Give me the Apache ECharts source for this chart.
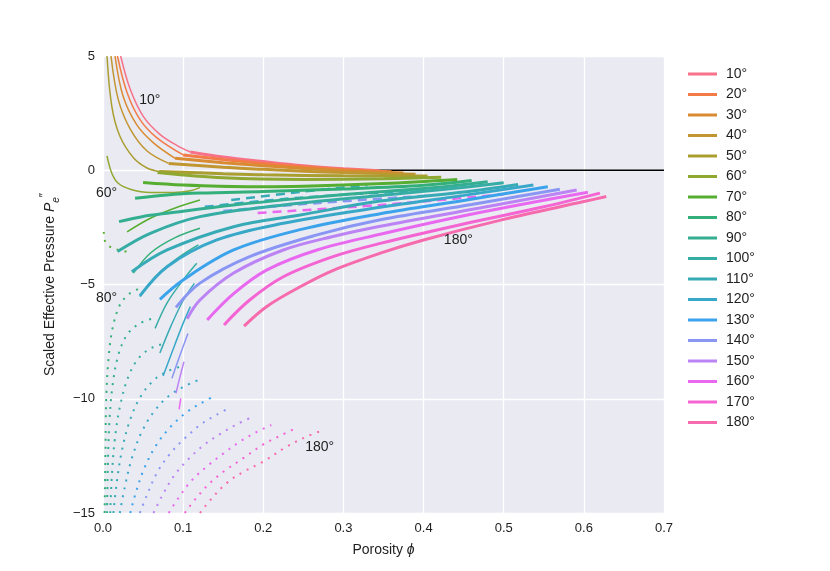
<!DOCTYPE html>
<html>
<head>
<meta charset="utf-8">
<script src="https://cdn.jsdelivr.net/npm/echarts@6/dist/echarts.min.js"></script>
<style>
  html, body { margin: 0; padding: 0; background: #fff; }
  #chart { width: 830px; height: 571px; }
</style>
</head>
<body>
<div id="chart"></div>
<script>
// 接触角 (legend entries)
const angles = [10, 20, 30, 40, 50, 60, 70, 80, 90, 100, 110, 120, 130, 140, 150, 160, 170, 180];
const palette = ['#f77189', '#f27b48', '#d98b32', '#c19631', '#aa9e31', '#8ea831', '#55ae31', '#33b07a',
  '#34ae91', '#36ada4', '#37abb5', '#38a8c8', '#3ba3ec', '#8a96f4', '#bb83f4', '#e868f0', '#f564d3', '#f66bad'];

// thick solid branch, one per angle, [porosity, pressure]
const stableBranch = [
  [[0.109, 0.8], [0.15, 0.58], [0.2, 0.38], [0.25, 0.2], [0.3, 0.07], [0.345, -0.02]],
  [[0.1, 0.67], [0.15, 0.47], [0.2, 0.3], [0.25, 0.15], [0.3, 0.03], [0.36, -0.07]],
  [[0.09, 0.52], [0.15, 0.33], [0.2, 0.2], [0.25, 0.08], [0.3, -0.02], [0.375, -0.12]],
  [[0.082, 0.3], [0.15, 0.13], [0.2, 0.04], [0.25, -0.04], [0.3, -0.1], [0.39, -0.18]],
  [[0.07, -0.05], [0.15, -0.15], [0.2, -0.2], [0.3, -0.24], [0.405, -0.25]],
  [[0.068, -0.1], [0.15, -0.33], [0.25, -0.4], [0.35, -0.37], [0.422, -0.31]],
  [[0.05, -0.54], [0.1, -0.65], [0.18, -0.72], [0.25, -0.7], [0.35, -0.58], [0.442, -0.4]],
  [[0.04, -1.23], [0.08, -1.08], [0.121, -1.0], [0.2, -0.93], [0.3, -0.82], [0.4, -0.66], [0.46, -0.45]],
  [[0.02, -2.25], [0.05, -2.02], [0.08, -1.88], [0.163, -1.52], [0.25, -1.22], [0.346, -0.94], [0.42, -0.74], [0.48, -0.5]],
  [[0.018, -3.56], [0.059, -2.76], [0.121, -2.03], [0.225, -1.52], [0.346, -1.1], [0.43, -0.82], [0.5, -0.55]],
  [[0.036, -4.44], [0.08, -3.49], [0.163, -2.47], [0.246, -1.96], [0.346, -1.35], [0.45, -0.95], [0.518, -0.62]],
  [[0.046, -5.5], [0.08, -4.22], [0.142, -3.05], [0.225, -2.32], [0.346, -1.62], [0.45, -1.1], [0.537, -0.65]],
  [[0.071, -5.65], [0.1, -4.8], [0.163, -3.49], [0.246, -2.6], [0.346, -1.9], [0.45, -1.32], [0.555, -0.72]],
  [[0.091, -6.0], [0.121, -4.94], [0.183, -3.78], [0.267, -2.83], [0.346, -2.17], [0.46, -1.5], [0.57, -0.83]],
  [[0.105, -6.5], [0.121, -5.68], [0.163, -4.5], [0.225, -3.49], [0.287, -2.9], [0.346, -2.45], [0.47, -1.65], [0.591, -0.86]],
  [[0.13, -6.55], [0.163, -5.4], [0.204, -4.37], [0.267, -3.49], [0.346, -2.8], [0.47, -1.85], [0.605, -0.96]],
  [[0.151, -6.77], [0.183, -5.68], [0.225, -4.66], [0.287, -3.78], [0.346, -3.2], [0.45, -2.35], [0.55, -1.6], [0.62, -1.0]],
  [[0.176, -6.82], [0.204, -5.97], [0.246, -5.1], [0.288, -4.37], [0.346, -3.63], [0.4, -3.05], [0.5, -2.15], [0.6, -1.37], [0.628, -1.15]]
];

// thin solid branch
const thinBranch = {
  10: [[0.022, 5], [0.034, 3.54], [0.05, 2.37], [0.071, 1.57], [0.092, 1.09], [0.109, 0.8]],
  20: [[0.018, 5], [0.03, 3.4], [0.046, 2.23], [0.067, 1.43], [0.1, 0.67]],
  30: [[0.015, 5], [0.025, 3.25], [0.042, 2.0], [0.063, 1.2], [0.09, 0.52]],
  40: [[0.01, 5], [0.019, 3.1], [0.034, 1.8], [0.055, 0.84], [0.082, 0.3]],
  50: [[0.005, 5], [0.011, 2.8], [0.021, 1.5], [0.038, 0.55], [0.055, 0.1], [0.07, -0.05]],
  60: [[0.005, 0.63], [0.011, -0.13], [0.019, -0.57], [0.034, -0.83], [0.059, -0.97], [0.088, -0.97], [0.109, -0.9], [0.121, -0.76]],
  70: [[0.03, -2.7], [0.059, -2.1], [0.09, -1.65], [0.121, -1.3]],
  80: [[0.038, -4.5], [0.06, -3.6], [0.09, -2.95], [0.121, -2.54]],
  90: [[0.046, -5.53], [0.07, -4.5], [0.095, -3.8], [0.119, -3.27]],
  100: [[0.065, -6.92], [0.08, -5.8], [0.1, -4.8], [0.117, -4.07]],
  110: [[0.071, -8.0], [0.085, -6.8], [0.1, -5.7], [0.114, -4.95]],
  120: [[0.075, -9.0], [0.09, -7.6], [0.1, -6.7], [0.109, -5.97]],
  140: [[0.086, -9.1], [0.096, -8.1], [0.106, -7.14]],
  150: [[0.091, -9.76], [0.096, -9.05], [0.101, -8.38]],
  160: [[0.095, -10.46], [0.097, -9.98]]
};

// dashed branch
const dashedBranch = {
  110: [[0.16, -1.3], [0.246, -0.95], [0.33, -0.65]],
  120: [[0.127, -1.6], [0.246, -1.2], [0.408, -0.86]],
  140: [[0.15, -1.78], [0.27, -1.43], [0.41, -1.1]],
  160: [[0.193, -1.87], [0.346, -1.52], [0.5, -1.05]]
};

// dotted branch
const dottedBranch = {
  70: [[0.001, -2.7], [0.002, -3.05], [0.009, -3.35], [0.021, -3.5], [0.03, -3.56]],
  80: [[0.002, -15], [0.003, -12.5], [0.004, -10.0], [0.007, -8.2], [0.012, -6.9], [0.021, -5.9], [0.033, -5.4], [0.046, -5.17]],
  90: [[0.005, -15], [0.006, -13.0], [0.008, -11.0], [0.012, -9.4], [0.019, -8.1], [0.03, -7.2], [0.046, -6.7], [0.063, -6.48]],
  100: [[0.009, -15], [0.011, -13.4], [0.015, -11.7], [0.022, -10.2], [0.032, -9.0], [0.045, -8.2], [0.062, -7.75], [0.08, -7.57]],
  110: [[0.013, -15], [0.017, -13.7], [0.024, -12.2], [0.034, -10.9], [0.047, -9.9], [0.063, -9.2], [0.08, -8.8], [0.096, -8.6]],
  120: [[0.021, -15], [0.027, -13.9], [0.036, -12.6], [0.049, -11.4], [0.065, -10.5], [0.083, -9.85], [0.102, -9.45], [0.119, -9.18]],
  130: [[0.034, -15], [0.041, -14.1], [0.052, -13.0], [0.067, -12.0], [0.085, -11.2], [0.104, -10.6], [0.122, -10.2], [0.138, -9.9]],
  140: [[0.046, -15], [0.055, -14.2], [0.068, -13.2], [0.085, -12.35], [0.103, -11.7], [0.123, -11.1], [0.142, -10.7], [0.158, -10.4]],
  150: [[0.063, -15], [0.073, -14.3], [0.088, -13.4], [0.105, -12.7], [0.125, -12.05], [0.148, -11.5], [0.168, -11.1], [0.186, -10.8]],
  160: [[0.082, -15], [0.094, -14.35], [0.11, -13.6], [0.13, -12.95], [0.15, -12.4], [0.172, -11.85], [0.192, -11.45], [0.21, -11.15]],
  170: [[0.102, -15], [0.115, -14.4], [0.133, -13.7], [0.152, -13.15], [0.175, -12.6], [0.2, -12.0], [0.222, -11.6], [0.24, -11.3]],
  180: [[0.121, -15], [0.134, -14.43], [0.154, -13.7], [0.175, -13.2], [0.2, -12.75], [0.229, -12.1], [0.254, -11.66], [0.275, -11.37]]
};

const zeroLine = [[0.32, 0], [0.7, 0]];

// 图中文字标注: [text, porosity, pressure]
const annotations = [
  ['10°', 0.059, 3.03],
  ['60°', 0.005, -1.04],
  ['80°', 0.005, -5.63],
  ['180°', 0.444, -3.1],
  ['180°', 0.271, -12.16]
];

const xTicks = { min: 0, max: 0.7, step: 0.1 };
const yTicks = { min: -15, max: 5, step: 5 };

const font = '"Liberation Sans", Arial, sans-serif';
const ink = '#1e1e1e';
const series = [];

series.push({
  type: 'line', name: 'zero', data: zeroLine, symbol: 'none', silent: true,
  lineStyle: { color: '#000', width: 1.5 }, z: 1
});

angles.forEach((a, i) => {
  const name = a + '°';
  const color = palette[i];
  const add = (data, width, type, z) => series.push({
    type: 'line', name, data, color, smooth: 0.35, symbol: 'none', silent: true, z,
    lineStyle: { color, width, type }
  });
  if (thinBranch[a]) add(thinBranch[a], 1.5, 'solid', 3);
  add(stableBranch[i], 3, 'solid', 4);
  if (dashedBranch[a]) add(dashedBranch[a], 2.5, [9, 6], 3);
  if (dottedBranch[a]) add(dottedBranch[a], 2, [2, 6], 2);
});

series.push({
  type: 'scatter', name: 'labels', symbolSize: 1, silent: true, z: 10,
  itemStyle: { color: '#EAEAF2', opacity: 1 },
  data: annotations.map(d => ({ name: d[0], value: [d[1], d[2]] })),
  label: {
    show: true, position: [0, 0], align: 'center', verticalAlign: 'middle',
    formatter: p => p.name, fontSize: 14, color: ink, fontFamily: font, textBorderWidth: 0
  }
});

let myChart = echarts.init(document.getElementById('chart'));
myChart.setOption({
  animation: false,
  backgroundColor: '#fff',
  textStyle: { fontFamily: font },
  grid: { left: 103, right: 166, top: 56, bottom: 58, show: true, backgroundColor: '#EAEAF2', borderWidth: 0 },
  legend: {
    data: angles.map(a => a + '°'),
    orient: 'vertical', left: 683, top: 62,
    icon: 'rect', itemWidth: 29, itemHeight: 3, itemGap: 6.5,
    textStyle: { fontSize: 14, color: ink, lineHeight: 14, padding: [0, 0, 0, 4] }
  },
  xAxis: {
    type: 'value', min: xTicks.min, max: xTicks.max, interval: xTicks.step,
    name: 'Porosity {i|ϕ}', nameLocation: 'middle', nameGap: 30,
    nameTextStyle: { fontSize: 14, color: ink, rich: { i: { fontSize: 14, fontStyle: 'italic', fontFamily: font } } },
    axisLine: { show: false }, axisTick: { show: false },
    axisLabel: { fontSize: 13, color: ink, margin: 9, formatter: v => v.toFixed(1) },
    splitLine: { lineStyle: { color: '#fff', width: 1.3 } }
  },
  yAxis: {
    type: 'value', min: yTicks.min, max: yTicks.max, interval: yTicks.step,
    name: 'Scaled Effective Pressure {i|P}{sub|e}{sup|″}', nameLocation: 'middle', nameGap: 42, nameRotate: 90,
    nameTextStyle: {
      fontSize: 14, color: ink, lineHeight: 22,
      rich: {
        i: { fontSize: 14, fontStyle: 'italic', lineHeight: 22, fontFamily: font },
        sub: { fontSize: 10, fontStyle: 'italic', lineHeight: 22, verticalAlign: 'bottom', fontFamily: font },
        sup: { fontSize: 12, lineHeight: 22, verticalAlign: 'top', fontFamily: font }
      }
    },
    axisLine: { show: false }, axisTick: { show: false },
    axisLabel: { fontSize: 13, color: ink, margin: 8, formatter: v => String(v).replace('-', '−') },
    splitLine: { lineStyle: { color: '#fff', width: 1.3 } }
  },
  series: series
});
</script>
</body>
</html>
